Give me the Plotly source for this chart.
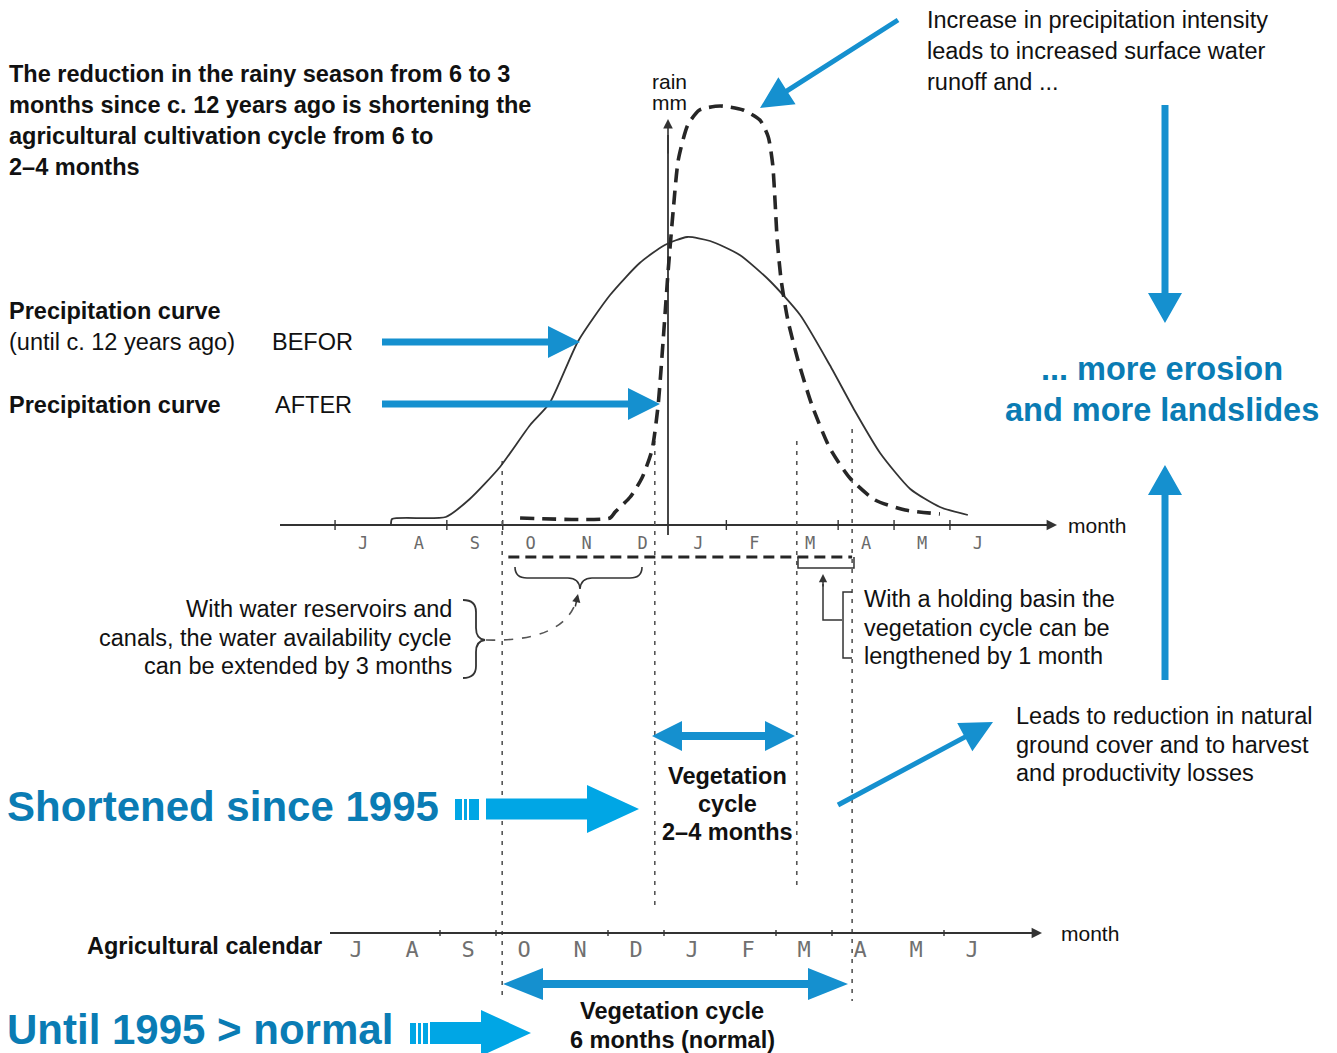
import math
import plotly.graph_objects as go

W, H = 1337, 1053

# ---------------------------------------------------------------- data
# month index: 0 = July ... 11 = June
months = ["J", "A", "S", "O", "N", "D", "J", "F", "M", "A", "M", "J"]
month_idx = list(range(12))

# precipitation curve before (until c. 12 years ago), rain in mm
before_month = [0.50, 0.52, 1.48, 1.91, 2.45, 2.99, 3.34, 3.85, 4.42, 4.95, 5.40,
                5.80, 6.21, 6.74, 7.28, 7.82, 8.35, 8.80, 9.25, 9.79, 10.32, 10.82]
before_rain = [0, 3, 4, 13, 29, 50, 61, 92, 115, 131, 140,
               144, 142, 135, 122, 105, 80, 57, 36, 18, 9, 5]

# precipitation curve after, rain in mm
after_month = [2.81, 4.42, 4.51, 4.78, 4.99, 5.17, 5.28, 5.37, 5.46, 5.55, 5.64,
               5.81, 6.02, 6.39, 6.80, 7.10, 7.25, 7.33, 7.37, 7.41, 7.48, 7.60,
               7.78, 8.03, 8.35, 8.71, 9.16, 9.70, 10.32]
after_rain = [3.5, 3.5, 6.5, 14, 23.5, 37.5, 60, 92.5, 127.5, 157.5, 182.5,
              200, 207.5, 209.5, 207.5, 202.5, 194, 180, 162.5, 142.5, 122.5, 102.5,
              82.5, 60, 38.5, 23.5, 12.5, 7.5, 5.5]

# water availability span with reservoirs (months)
water_span = [2.6, 8.75]
# boundaries of the vegetation cycles (months)
cycle_bounds = [2.49, 5.22, 7.76, 8.75]

# ---------------------------------------------------------------- styles
SANS = "Liberation Sans, Arial, Helvetica, sans-serif"
HAND = "DejaVu Sans Mono, monospace"
INK = "#333333"
GREY = "#555555"
BLUE_TXT = "#0a7cb4"
BLUE_BIG = "#00a6e5"
BLUE = "#1590cf"

# upper chart scale: month 0 at 363 px, 55.9 px per month; 0 mm at 525 px, 2 px per mm
x_rng = [-363 / 55.9, -363 / 55.9 + W / 55.9]
y_rng = [-(H - 525) / 2, 525 / 2]
# lower (agricultural calendar) scale
x2_rng = [-356 / 56, -356 / 56 + W / 56]
y2_rng = [-(H - 933), 933]


def P(x, y):
    return f"{x / W:.5f},{1 - y / H:.5f}"


def poly(pts):
    return "M " + " L ".join(P(x, y) for x, y in pts) + " Z"


def arrow_pts(x0, y0, x1, y1, shaft, head_w, head_l, double=False):
    dx, dy = x1 - x0, y1 - y0
    L = math.hypot(dx, dy)
    ux, uy = dx / L, dy / L
    nx, ny = -uy, ux

    def off(p, d):
        return (p[0] + nx * d, p[1] + ny * d)

    hs, hh = shaft / 2, head_w / 2
    tip = (x1, y1)
    base = (x1 - ux * head_l, y1 - uy * head_l)
    if double:
        tip0 = (x0, y0)
        base0 = (x0 + ux * head_l, y0 + uy * head_l)
        return [tip0, off(base0, hh), off(base0, hs), off(base, hs), off(base, hh), tip,
                off(base, -hh), off(base, -hs), off(base0, -hs), off(base0, -hh)]
    return [off((x0, y0), hs), off(base, hs), off(base, hh), tip,
            off(base, -hh), off(base, -hs), off((x0, y0), -hs)]


shapes = []


def add_arrow(x0, y0, x1, y1, shaft, head_w, head_l, color, double=False):
    shapes.append(dict(type="path", xref="paper", yref="paper",
                       path=poly(arrow_pts(x0, y0, x1, y1, shaft, head_w, head_l, double)),
                       fillcolor=color, line=dict(width=0)))


def add_rect(x0, y0, x1, y1, color):
    shapes.append(dict(type="rect", xref="paper", yref="paper",
                       x0=x0 / W, x1=x1 / W, y0=1 - y1 / H, y1=1 - y0 / H,
                       fillcolor=color, line=dict(width=0)))


def add_path(d, width=1.6, color=INK, dash="solid"):
    shapes.append(dict(type="path", xref="paper", yref="paper", path=d,
                       line=dict(width=width, color=color, dash=dash)))


annotations = []


def txt(x, y, s, size=23.5, color="#111111", bold=False, xanchor="left", family=SANS):
    annotations.append(dict(x=x / W, y=1 - y / H, xref="paper", yref="paper",
                            text=f"<b>{s}</b>" if bold else s, showarrow=False,
                            xanchor=xanchor, yanchor="middle",
                            font=dict(family=family, size=size, color=color)))


def lines(x, y0, step, rows, **kw):
    for i, r in enumerate(rows):
        txt(x, y0 + i * step, r, **kw)


fig = go.Figure()

# ---------------------------------------------------------------- upper chart
# month axis
fig.add_trace(go.Scatter(x=[x_rng[0] + 280 / 55.9, x_rng[0] + 1050 / 55.9], y=[0, 0],
                         mode="lines", line=dict(color=INK, width=1.8), hoverinfo="skip"))
annotations.append(dict(x=x_rng[0] + 1057 / 55.9, y=0, ax=x_rng[0] + 1030 / 55.9, ay=0,
                        xref="x", yref="y", axref="x", ayref="y", text="", showarrow=True,
                        arrowhead=2, arrowsize=1.3, arrowwidth=1.6, arrowcolor=INK))
for t in [-0.5, 1.5, 2.5, 6.5, 8.5, 9.5, 10.5]:
    fig.add_trace(go.Scatter(x=[t, t], y=[-2.5, 2.5], mode="lines",
                             line=dict(color=INK, width=1.4), hoverinfo="skip"))

# rain axis
rain_axis_x = x_rng[0] + 668 / 55.9
fig.add_trace(go.Scatter(x=[rain_axis_x, rain_axis_x], y=[-5, 195], mode="lines",
                         line=dict(color=INK, width=1.8), hoverinfo="skip"))
annotations.append(dict(x=rain_axis_x, y=203, ax=rain_axis_x, ay=185,
                        xref="x", yref="y", axref="x", ayref="y", text="", showarrow=True,
                        arrowhead=2, arrowsize=1.2, arrowwidth=1.6, arrowcolor=INK))

# vegetation-cycle boundaries
bound_top = [32, 42, 42, 48]
bound_bot = [-238, -193, -183, -238]
for b, t0, t1 in zip(cycle_bounds, bound_top, bound_bot):
    fig.add_trace(go.Scatter(x=[b, b], y=[t0, t1], mode="lines",
                             line=dict(color=GREY, width=1.6, dash="4px,6px"), hoverinfo="skip"))

# precipitation curves
fig.add_trace(go.Scatter(x=before_month, y=before_rain, mode="lines",
                         line=dict(color=INK, width=1.8, shape="spline", smoothing=0.6),
                         hoverinfo="skip"))
fig.add_trace(go.Scatter(x=after_month, y=after_rain, mode="lines",
                         line=dict(color="#262626", width=3.6, shape="spline", smoothing=0.6,
                                   dash="14px,8px"),
                         hoverinfo="skip"))

# water availability with reservoirs
fig.add_trace(go.Scatter(x=water_span, y=[-16, -16], mode="lines",
                         line=dict(color="#262626", width=3, dash="11px,6px"), hoverinfo="skip"))

# month letters
fig.add_trace(go.Scatter(x=month_idx, y=[-10] * 12, mode="text", text=months,
                         textfont=dict(family=HAND, size=17, color="#6a6a6a"),
                         hoverinfo="skip"))

# ---------------------------------------------------------------- agricultural calendar
fig.add_trace(go.Scatter(x=[(330 - 356) / 56, (1035 - 356) / 56], y=[0, 0], xaxis="x2",
                         yaxis="y2", mode="lines", line=dict(color=INK, width=1.8),
                         hoverinfo="skip"))
annotations.append(dict(x=(1042 - 356) / 56, y=0, ax=(1015 - 356) / 56, ay=0,
                        xref="x2", yref="y2", axref="x2", ayref="y2", text="", showarrow=True,
                        arrowhead=2, arrowsize=1.3, arrowwidth=1.6, arrowcolor=INK))
for t in [1.5, 2.5, 4.5, 5.5, 7.5, 8.5, 10.5]:
    fig.add_trace(go.Scatter(x=[t, t], y=[-3, 3], xaxis="x2", yaxis="y2", mode="lines",
                             line=dict(color=INK, width=1.4), hoverinfo="skip"))
fig.add_trace(go.Scatter(x=month_idx, y=[-18] * 12, xaxis="x2", yaxis="y2", mode="text",
                         text=months, textfont=dict(family=HAND, size=22, color="#707070"),
                         hoverinfo="skip"))

# ---------------------------------------------------------------- braces and connectors
# brace under O-N-D
add_path("M " + P(515, 567) + " Q " + P(515, 578) + " " + P(527, 578) + " L " + P(568, 578)
         + " Q " + P(579, 578) + " " + P(580, 589) + " Q " + P(581, 578) + " " + P(592, 578)
         + " L " + P(630, 578) + " Q " + P(642, 578) + " " + P(642, 567), width=1.6)
# brace beside reservoir text
add_path("M " + P(463, 600) + " Q " + P(476, 600) + " " + P(476, 612) + " L " + P(476, 628)
         + " Q " + P(476, 639) + " " + P(485, 640) + " Q " + P(476, 641) + " " + P(476, 652)
         + " L " + P(476, 666) + " Q " + P(476, 678) + " " + P(463, 678), width=1.8)
# dashed connector to the brace
add_path("M " + P(486, 640) + " Q " + P(562, 642) + " " + P(576, 602), width=1.6,
         color=GREY, dash="dash")
annotations.append(dict(x=578 / W, y=1 - 594 / H, xref="paper", yref="paper", ax=-3, ay=14,
                        text="", showarrow=True, arrowhead=2, arrowsize=1.1, arrowwidth=1.5,
                        arrowcolor=INK))
# holding basin bracket
add_path("M " + P(798, 557) + " L " + P(798, 568) + " L " + P(854, 568) + " L " + P(854, 557),
         width=1.5)
add_path("M " + P(823, 584) + " L " + P(823, 620) + " L " + P(842, 620), width=1.5)
add_path("M " + P(852, 592) + " L " + P(843, 592) + " L " + P(843, 658) + " L " + P(852, 658),
         width=1.5)
annotations.append(dict(x=823 / W, y=1 - 574 / H, xref="paper", yref="paper", ax=0, ay=14,
                        text="", showarrow=True, arrowhead=2, arrowsize=1.1, arrowwidth=1.5,
                        arrowcolor=INK))

# ---------------------------------------------------------------- blue arrows
add_arrow(898, 20, 760, 108, 5, 32, 32, BLUE)             # to the intensity peak
add_arrow(1165, 105, 1165, 323, 7, 34, 30, BLUE)          # runoff -> erosion
add_arrow(1165, 680, 1165, 465, 7, 34, 30, BLUE)          # ground cover -> erosion
add_arrow(382, 342, 580, 342, 7, 32, 32, BLUE)            # BEFOR
add_arrow(382, 404, 660, 404, 7, 32, 32, BLUE)            # AFTER
add_arrow(652, 736, 795, 736, 8, 30, 30, BLUE, double=True)
add_arrow(838, 805, 993, 722, 5, 32, 32, BLUE)
add_arrow(503, 984, 848, 984, 8, 32, 40, BLUE, double=True)

# big arrows
add_rect(455, 799, 462, 820, BLUE_BIG)
add_rect(464, 799, 467, 820, BLUE_BIG)
add_rect(469, 799, 479, 820, BLUE_BIG)
add_arrow(486, 809, 639, 809, 21, 48, 52, BLUE_BIG)
add_rect(410, 1023, 416, 1044, BLUE_BIG)
add_rect(418, 1023, 421, 1044, BLUE_BIG)
add_rect(423, 1023, 428, 1044, BLUE_BIG)
add_arrow(430, 1033, 531, 1033, 22, 46, 50, BLUE_BIG)

# ---------------------------------------------------------------- texts
lines(7, 74, 31, ["The reduction in the rainy season from 6 to 3",
                  "months since c. 12 years ago is shortening the",
                  "agricultural cultivation cycle from 6 to",
                  "2–4 months"], bold=True)
txt(7, 311, "Precipitation curve", bold=True)
txt(7, 342, "(until c. 12 years ago)")
txt(270, 342, "BEFOR")
txt(7, 405, "Precipitation curve", bold=True)
txt(273, 405, "AFTER")

txt(669, 82, "rain", size=21, xanchor="center")
txt(669, 103, "mm", size=21, xanchor="center")
txt(1066, 525, "month", size=21)
txt(1059, 933, "month", size=21)

lines(925, 20, 31, ["Increase in precipitation intensity",
                    "leads to increased surface water",
                    "runoff and ..."])
lines(1162, 369, 41, ["... more erosion", "and more landslides"], size=32.5,
      color=BLUE_TXT, bold=True, xanchor="center")

lines(454, 609, 28.5, ["With water reservoirs and",
                       "canals, the water availability cycle",
                       "can be extended by 3 months"], xanchor="right")
lines(862, 599, 28.5, ["With a holding basin the",
                       "vegetation cycle can be",
                       "lengthened by 1 month"])
lines(1014, 716, 28.5, ["Leads to reduction in natural",
                        "ground cover and to harvest",
                        "and productivity losses"])
lines(727, 776, 28, ["Vegetation", "cycle", "2–4 months"], bold=True, xanchor="center")

txt(5, 806, "Shortened since 1995", size=42, color=BLUE_TXT, bold=True)
txt(5, 1029, "Until 1995 &gt; normal", size=42, color=BLUE_TXT, bold=True)

txt(324, 946, "Agricultural calendar", bold=True, xanchor="right")
lines(672, 1011, 29, ["Vegetation cycle", "6 months (normal)"], bold=True, xanchor="center")

# ---------------------------------------------------------------- layout
fig.update_layout(
    width=W, height=H,
    margin=dict(l=0, r=0, t=0, b=0),
    paper_bgcolor="white", plot_bgcolor="white",
    showlegend=False,
    xaxis=dict(range=x_rng, domain=[0, 1], visible=False, fixedrange=True),
    yaxis=dict(range=y_rng, domain=[0, 1], visible=False, fixedrange=True),
    xaxis2=dict(range=x2_rng, overlaying="x", anchor="y2", visible=False, fixedrange=True),
    yaxis2=dict(range=y2_rng, overlaying="y", anchor="x2", visible=False, fixedrange=True),
    shapes=shapes,
    annotations=annotations,
)

fig.write_html("out.html", config={"displayModeBar": False})
